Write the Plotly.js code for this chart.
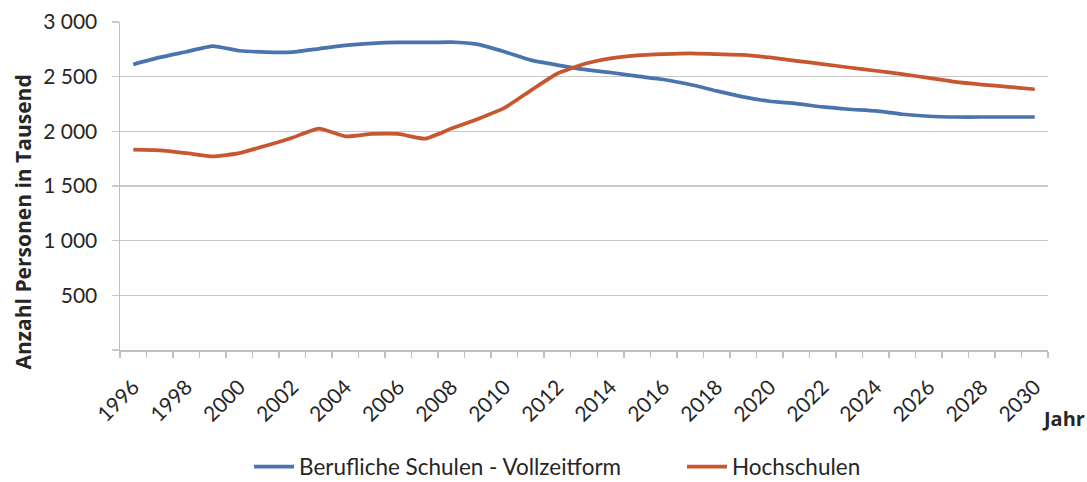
<!DOCTYPE html>
<html>
<head>
<meta charset="utf-8">
<script src="https://cdn.plot.ly/plotly-3.0.1.min.js"></script>
<style>html,body{margin:0;padding:0;background:#fff;}#chart{width:1087px;height:482px;}</style>
</head>
<body>
<div id="chart"></div>
<script>
const years = [1996,1997,1998,1999,2000,2001,2002,2003,2004,2005,2006,2007,2008,2009,2010,2011,2012,2013,2014,2015,2016,2017,2018,2019,2020,2021,2022,2023,2024,2025,2026,2027,2028,2029,2030];
const beruflicheSchulen = [2612,2676,2728,2780,2737,2725,2725,2755,2786,2804,2813,2813,2816,2795,2728,2651,2606,2566,2538,2505,2474,2428,2370,2315,2275,2254,2223,2202,2187,2156,2138,2131,2131,2131,2131];
const hochschulen = [1832,1826,1801,1771,1801,1869,1942,2025,1954,1976,1976,1933,2025,2113,2214,2375,2529,2615,2667,2694,2706,2713,2706,2700,2676,2645,2615,2584,2554,2523,2489,2453,2428,2407,2385];
const xTickYears = [1996,1998,2000,2002,2004,2006,2008,2010,2012,2014,2016,2018,2020,2022,2024,2026,2028,2030];
const yTickVals = [0,500,1000,1500,2000,2500,3000];
const yTickText = ['','500','1 000','1 500','2 000','2 500','3 000'];
const seriesNames = ['Berufliche Schulen - Vollzeitform','Hochschulen'];

const FONT = 'Lato, "Open Sans", sans-serif';
const TFONT = '"Open Sans", Lato, sans-serif';
const traces = [
  {x: years, y: beruflicheSchulen, name: seriesNames[0], type: 'scatter', mode: 'lines', legend: 'legend',
   line: {color: '#4a74ad', width: 3.7, shape: 'spline', smoothing: 0.5}},
  {x: years, y: hochschulen, name: seriesNames[1], type: 'scatter', mode: 'lines', legend: 'legend2',
   line: {color: '#c8562f', width: 3.7, shape: 'spline', smoothing: 0.5}}
];
const legendBase = {orientation: 'h', xanchor: 'left', y: (350 - 467) / 328, yanchor: 'middle',
  font: {family: FONT, size: 22.5, color: '#262626'}, itemwidth: 40, bgcolor: 'rgba(0,0,0,0)'};
const layout = {
  width: 1087, height: 482,
  margin: {l: 120, r: 39, t: 22, b: 132, autoexpand: false},
  paper_bgcolor: '#ffffff', plot_bgcolor: '#ffffff',
  font: {family: FONT, size: 20, color: '#262626'},
  showlegend: true,
  legend: Object.assign({}, legendBase, {x: (249 - 120) / 928}),
  legend2: Object.assign({}, legendBase, {x: (682 - 120) / 928}),
  xaxis: {
    range: [1995.5, 2030.5], tickmode: 'array', tickvals: xTickYears, ticktext: xTickYears.map(String),
    tickangle: -45, ticks: '', showgrid: false, zeroline: false,
    showline: true, linecolor: '#bfbfbf', linewidth: 1.5,
    tickfont: {family: FONT, size: 21, color: '#262626'},
    ticklabelstandoff: 15,
    minor: {tickmode: 'linear', tick0: 1995.5, dtick: 1, ticks: 'outside', ticklen: 6, tickcolor: '#bfbfbf', tickwidth: 1.5, showgrid: false}
  },
  yaxis: {
    range: [0, 3000], tickmode: 'array', tickvals: yTickVals, ticktext: yTickText,
    ticks: 'outside', ticklen: 7, tickcolor: '#c8c8c8', tickwidth: 1.5,
    showgrid: true, gridcolor: '#c8c8c8', gridwidth: 1.5, zeroline: false,
    showline: true, linecolor: '#bfbfbf', linewidth: 1.5,
    tickfont: {family: FONT, size: 21, color: '#262626'},
    ticklabelstandoff: 10
  },
  annotations: [
    {text: '<b>Anzahl Personen in Tausend</b>', xref: 'paper', yref: 'paper',
     x: (22.5 - 120) / 928, y: (350 - 222) / 328, xanchor: 'center', yanchor: 'middle',
     textangle: -90, showarrow: false, font: {family: TFONT, size: 21, color: '#262626'}},
    {text: '<b>Jahr</b>', xref: 'paper', yref: 'paper',
     x: (1063 - 120) / 928, y: (350 - 418) / 328, xanchor: 'center', yanchor: 'middle',
     showarrow: false, font: {family: TFONT, size: 20, color: '#262626'}}
  ]
};
Plotly.newPlot('chart', traces, layout, {displayModeBar: false, staticPlot: true});
</script>
</body>
</html>
